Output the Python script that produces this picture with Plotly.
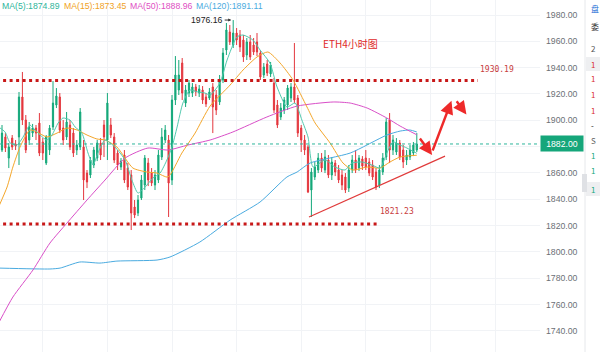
import plotly.graph_objects as go

# ---------------- data (ETH 4h candles) ----------------
OPEN = [1877.4, 1887.3, 1871.3, 1886.5, 1882.0, 1887.3, 1917.7, 1900.2, 1885.0, 1890.3,
        1894.1, 1897.9, 1883.5, 1867.5, 1877.4, 1894.9, 1911.6, 1917.7, 1894.1, 1887.3,
        1896.4, 1890.3, 1877.4, 1879.7, 1879.7, 1859.9, 1858.4, 1866.0, 1871.3, 1882.7,
        1896.4, 1885.0, 1896.4, 1887.3, 1875.1, 1864.5, 1873.6, 1863.7, 1858.4, 1834.1,
        1829.5, 1840.9, 1850.8, 1867.5, 1859.9, 1850.8, 1854.6, 1872.1, 1885.0, 1885.0,
        1854.6, 1915.4, 1923.0, 1943.5, 1913.1, 1920.7, 1920.7, 1925.3, 1920.7, 1923.0,
        1917.7, 1916.9, 1925.3, 1919.2, 1913.9, 1930.6, 1953.4, 1967.1, 1957.2, 1966.3,
        1964.8, 1961.0, 1949.6, 1959.5, 1957.2, 1959.5, 1951.1, 1934.4, 1942.8, 1935.2,
        1928.3, 1911.6, 1902.5, 1907.8, 1911.6, 1916.9, 1925.3, 1916.9, 1894.1, 1885.0,
        1879.7, 1847.0, 1856.9, 1862.2, 1871.3, 1862.2, 1869.8, 1858.4, 1867.5, 1862.2,
        1858.4, 1856.9, 1848.5, 1862.2, 1869.8, 1863.7, 1870.6, 1871.3, 1868.3, 1866.0,
        1860.7, 1850.8, 1860.7, 1872.1, 1900.2, 1877.4, 1875.9, 1882.7, 1877.4, 1869.8,
        1872.1, 1875.1, 1877.4]
HIGH = [1896.4, 1890.3, 1882.7, 1888.8, 1885.0, 1921.5, 1936.7, 1904.0, 1898.7, 1897.2,
        1896.4, 1905.5, 1886.5, 1888.8, 1896.4, 1929.8, 1924.5, 1920.7, 1900.2, 1906.3,
        1900.2, 1894.1, 1885.0, 1909.3, 1885.0, 1862.2, 1872.1, 1879.7, 1885.0, 1886.5,
        1900.2, 1920.7, 1901.7, 1890.3, 1877.4, 1871.3, 1877.4, 1867.5, 1862.2, 1839.4,
        1843.2, 1858.4, 1873.6, 1871.3, 1863.7, 1862.2, 1877.4, 1894.1, 1896.4, 1888.8,
        1919.2, 1948.8, 1945.8, 1947.3, 1926.8, 1930.6, 1928.3, 1927.6, 1926.8, 1926.0,
        1920.7, 1924.5, 1928.3, 1923.0, 1934.4, 1954.9, 1973.9, 1972.4, 1976.16, 1970.1,
        1968.6, 1964.8, 1962.5, 1964.8, 1962.5, 1966.3, 1953.4, 1943.5, 1945.8, 1944.3,
        1932.1, 1915.4, 1913.1, 1917.7, 1926.8, 1928.3, 1958.7, 1919.2, 1896.4, 1888.8,
        1881.2, 1863.7, 1868.3, 1875.1, 1875.1, 1877.4, 1873.6, 1872.1, 1869.8, 1866.0,
        1862.2, 1859.9, 1866.0, 1873.6, 1877.4, 1873.6, 1872.8, 1877.4, 1871.3, 1869.8,
        1863.7, 1866.0, 1875.1, 1901.7, 1905.5, 1888.8, 1886.5, 1885.0, 1881.2, 1877.4,
        1881.2, 1883.5, 1890.3]
LOW = [1875.9, 1875.9, 1863.7, 1877.4, 1877.4, 1866.0, 1896.4, 1875.1, 1881.2, 1887.3,
       1885.0, 1872.8, 1869.8, 1866.0, 1873.6, 1892.6, 1909.3, 1890.3, 1881.2, 1885.0,
       1877.4, 1872.1, 1873.6, 1877.4, 1839.4, 1848.5, 1856.1, 1863.7, 1869.0, 1869.8,
       1872.1, 1869.8, 1886.5, 1867.5, 1862.2, 1862.2, 1852.3, 1847.0, 1816.6, 1825.7,
       1827.2, 1839.4, 1847.0, 1850.0, 1850.0, 1847.0, 1852.3, 1869.8, 1882.7, 1826.5,
       1850.8, 1911.6, 1919.2, 1915.4, 1910.1, 1917.7, 1917.7, 1918.4, 1917.7, 1912.4,
       1910.1, 1915.4, 1890.3, 1904.0, 1911.6, 1928.3, 1949.6, 1957.2, 1954.9, 1957.2,
       1951.9, 1944.3, 1945.8, 1945.8, 1949.6, 1948.8, 1930.6, 1932.1, 1933.6, 1932.9,
       1905.5, 1894.1, 1900.2, 1904.8, 1907.8, 1913.9, 1913.1, 1887.3, 1875.9, 1873.6,
       1844.7, 1826.5, 1854.6, 1859.9, 1860.7, 1859.9, 1856.1, 1854.6, 1857.6, 1852.3,
       1847.0, 1844.7, 1845.5, 1859.9, 1859.9, 1861.4, 1862.2, 1862.2, 1857.6, 1854.6,
       1847.0, 1848.5, 1858.4, 1869.8, 1867.5, 1873.6, 1873.6, 1869.8, 1863.7, 1866.0,
       1869.8, 1872.8, 1875.9]
CLOSE = [1890.3, 1878.9, 1879.7, 1879.7, 1880.4, 1917.7, 1900.2, 1877.4, 1894.9, 1894.1,
         1890.3, 1875.1, 1875.1, 1887.3, 1894.1, 1913.1, 1918.4, 1892.6, 1885.0, 1898.7,
         1879.7, 1875.1, 1881.2, 1906.3, 1854.6, 1853.1, 1869.8, 1877.4, 1882.7, 1873.6,
         1887.3, 1913.1, 1888.8, 1869.8, 1866.0, 1869.0, 1854.6, 1849.3, 1829.5, 1828.0,
         1839.4, 1854.6, 1871.3, 1854.6, 1852.3, 1858.4, 1873.6, 1887.3, 1892.6, 1852.3,
         1915.4, 1934.4, 1934.4, 1920.7, 1923.0, 1928.3, 1925.3, 1921.5, 1923.8, 1915.4,
         1912.4, 1921.5, 1910.1, 1907.8, 1930.6, 1951.1, 1968.6, 1959.5, 1966.3, 1961.0,
         1955.7, 1948.1, 1959.5, 1948.1, 1951.9, 1951.9, 1932.9, 1940.5, 1935.9, 1942.0,
         1907.8, 1896.4, 1909.3, 1915.4, 1924.5, 1925.3, 1915.4, 1890.3, 1885.0, 1877.4,
         1845.5, 1860.7, 1864.5, 1871.3, 1863.7, 1872.1, 1858.4, 1868.3, 1860.7, 1854.6,
         1850.8, 1847.0, 1862.2, 1869.8, 1862.2, 1871.3, 1865.2, 1864.5, 1859.9, 1856.9,
         1849.3, 1862.2, 1871.3, 1898.7, 1877.4, 1885.0, 1882.7, 1872.1, 1868.3, 1873.6,
         1877.4, 1881.2, 1882.0]

# moving-average curves, sampled at candle indices
MA5_IDX = [-1, 0.9, 2.4, 4.4, 6.2, 8.2, 9.7, 11.2, 13.2, 14.7, 16.5, 17.9, 20, 21.5, 23.5, 25.3,
           26.8, 28.2, 30.3, 33.2, 36.2, 38.2, 40, 42.1, 44.4, 46.5, 48.5, 50, 51.5, 53.2, 55.3,
           57.6, 59.7, 61.2, 64.1, 66.2, 69.1, 70.9, 73.8, 75.9, 78.8, 80.9, 83.8, 86.2, 88.2,
           90, 91.5, 95, 97.9, 100.9, 102.9, 105.9, 108.8, 111.2, 113.2, 115, 117.1, 119.1, 122]
MA5_VAL = [1894.9, 1891.1, 1882.7, 1881.2, 1887.3, 1896.4, 1892.6, 1888.8, 1885.0, 1888.8,
           1897.9, 1901.7, 1900.2, 1894.9, 1890.3, 1875.1, 1866.0, 1875.1, 1885.0, 1879.7,
           1869.8, 1854.6, 1844.7, 1849.3, 1856.1, 1859.9, 1869.8, 1879.7, 1894.9, 1913.1,
           1923.0, 1921.5, 1920.7, 1919.2, 1928.3, 1945.8, 1963.3, 1964.8, 1961.0, 1953.4,
           1943.5, 1925.3, 1910.1, 1913.1, 1900.2, 1887.3, 1864.5, 1869.8, 1864.5, 1862.2,
           1867.5, 1868.3, 1866.0, 1863.7, 1875.1, 1883.5, 1881.2, 1878.9, 1874.89]
MA15_IDX = [-1, 1.5, 3.2, 5.3, 8.2, 10.3, 13.2, 16.2, 19.1, 22.1, 25, 27.9, 30.3, 33.8, 38.5,
            42.6, 45.6, 48.8, 52.9, 56.8, 61.2, 67.1, 70.9, 75, 78.2, 81.8, 85.6, 89.7, 92.1,
            96.5, 100.3, 103.2, 107.4, 111.2, 114.1, 117.1, 122]
MA15_VAL = [1834.1, 1849.3, 1864.5, 1879.7, 1892.6, 1891.1, 1887.3, 1890.3, 1894.1, 1892.6,
            1888.8, 1885.8, 1885.0, 1879.7, 1863.7, 1860.7, 1859.9, 1856.9, 1875.1, 1890.3,
            1910.8, 1926.8, 1938.2, 1948.1, 1951.9, 1943.5, 1930.6, 1910.1, 1897.9, 1882.7,
            1867.5, 1862.2, 1864.5, 1863.7, 1868.3, 1872.1, 1873.45]
MA50_IDX = [-1, 3.2, 9.1, 14.1, 19.1, 25, 30.3, 36.2, 42.9, 48.8, 54.7, 61.2, 67.9, 77.9, 86.8,
            97.4, 102.4, 107.4, 113.2, 117.1, 122]
MA50_VAL = [1745.9, 1765.7, 1786.2, 1806.7, 1821.9, 1839.4, 1854.6, 1871.3, 1878.9, 1877.4,
            1881.2, 1885.0, 1891.1, 1902.5, 1910.8, 1913.9, 1913.1, 1909.3, 1901.7, 1895.6,
            1888.96]
MA120_IDX = [-1, 14.1, 17.1, 22.9, 28.8, 33.8, 45.6, 49.4, 58.2, 67.1, 75.9, 83.8, 86.8, 90.6,
             102.4, 113.2, 117.1, 120, 122]
MA120_VAL = [1787.7, 1787.0, 1787.7, 1792.3, 1791.5, 1793.0, 1793.8, 1796.1, 1807.5, 1824.2,
             1837.9, 1856.9, 1860.7, 1867.5, 1875.1, 1888.8, 1891.8, 1892.6, 1891.11]

MA_NAMES = ["MA(5)", "MA(15)", "MA(50)", "MA(120)"]
MA_LAST = [1874.89, 1873.45, 1888.96, 1891.11]

LAST_PRICE = 1882.00
RESIST = 1930.19
SUPPORT = 1821.23
PEAK = 1976.16
PEAK_IDX = 68
RESIST_END = 140
SUPPORT_END = 110.6
TREND_IDX = [90.3, 130.3]
TREND_VAL = [1826.5, 1872.8]
ARROWS = [  # (tail idx, tail price, head idx, head price)
    (122.6, 1887.3, 126.5, 1873.6),
    (126.5, 1875.9, 132.2, 1914.8),
    (133.4, 1915.6, 136.6, 1904.4),
]
Y_TICKS = list(range(1740, 1981, 20))

# ---------------- style ----------------
GREEN = "#14a87a"
RED = "#e4373e"
MA_COLORS = ["#52c9ae", "#f4a62a", "#d94fc8", "#4aabe0"]
MA_TEXT = ["#2fb59b", "#f0a21e", "#e04fc3", "#4aabe0"]
GRID = "#f1f3f6"
W, H = 600, 352
PLOT_W = 540
PX_PER_CANDLE = 3.4
FIRST_PX = 2

n = len(CLOSE)
idx = list(range(n))

fig = go.Figure()
fig.add_trace(go.Candlestick(
    x=idx, open=OPEN, high=HIGH, low=LOW, close=CLOSE,
    increasing=dict(line=dict(color=GREEN, width=1), fillcolor=GREEN),
    decreasing=dict(line=dict(color=RED, width=1), fillcolor=RED),
    whiskerwidth=0, hoverinfo="skip"))

for (xi, yv, c) in [(MA120_IDX, MA120_VAL, MA_COLORS[3]), (MA50_IDX, MA50_VAL, MA_COLORS[2]),
                    (MA15_IDX, MA15_VAL, MA_COLORS[1]), (MA5_IDX, MA5_VAL, MA_COLORS[0])]:
    fig.add_trace(go.Scatter(x=xi, y=yv, mode="lines", hoverinfo="skip",
                             line=dict(color=c, width=1, shape="spline", smoothing=0.6)))

# trend line
fig.add_trace(go.Scatter(x=TREND_IDX, y=TREND_VAL, mode="lines", hoverinfo="skip",
                         line=dict(color="#e03a3a", width=1.2)))

x0 = -FIRST_PX / PX_PER_CANDLE
x1 = (PLOT_W - FIRST_PX) / PX_PER_CANDLE
y_top = 1980 + 15 / 1.316
y_bot = y_top - H / 1.316

shapes = [
    dict(type="line", xref="x", yref="y", x0=x0 - 1, x1=RESIST_END, y0=RESIST, y1=RESIST,
         line=dict(color="#c81818", width=3, dash="3px,3.5px")),
    dict(type="line", xref="x", yref="y", x0=x0 - 1, x1=SUPPORT_END, y0=SUPPORT, y1=SUPPORT,
         line=dict(color="#c81818", width=3, dash="3px,3.5px")),
    dict(type="line", xref="paper", yref="y", x0=0, x1=1, y0=LAST_PRICE, y1=LAST_PRICE,
         line=dict(color="#2db59b", width=1, dash="3px,3px")),
    # side panel divider
    dict(type="line", xref="paper", yref="paper", x0=585 / PLOT_W, x1=585 / PLOT_W, y0=0, y1=1,
         line=dict(color="#e6e8eb", width=1)),
    dict(type="rect", xref="paper", yref="paper", x0=586 / PLOT_W, x1=600 / PLOT_W,
         y0=1 - 71 / H, y1=1 - 57 / H, fillcolor="#eeeff1", line=dict(width=0)),
    dict(type="rect", xref="paper", yref="paper", x0=586 / PLOT_W, x1=600 / PLOT_W,
         y0=1 - 196 / H, y1=1 - 182 / H, fillcolor="#eeeff1", line=dict(width=0)),
    dict(type="rect", xref="paper", yref="paper", x0=582 / PLOT_W, x1=587 / PLOT_W,
         y0=1 - 192 / H, y1=1 - 174 / H, fillcolor="#dfe1e5", line=dict(width=0)),
]

ann = []
# MA legend
legend_px = [0, 62, 128, 194]
for name, val, col, px in zip(MA_NAMES, MA_LAST, MA_TEXT, legend_px):
    ann.append(dict(xref="paper", yref="paper", x=px / PLOT_W, y=1 - 6 / H, xanchor="left",
                    yanchor="middle", showarrow=False, text=f"{name}:{val:.2f}",
                    font=dict(family="Liberation Sans, Arial", size=8.7, color=col)))
# title
ann.append(dict(xref="paper", yref="paper", x=350 / PLOT_W, y=1 - 34 / H, showarrow=False,
                text="ETH4小时图", font=dict(family="Noto Sans CJK SC", size=10, color="#e02a2a")))
# peak marker
ann.append(dict(xref="x", yref="y", x=PEAK_IDX - 0.3, y=PEAK, text=f"{PEAK:.2f}", showarrow=True,
                ax=-25, ay=0, arrowhead=2, arrowsize=0.6, arrowwidth=1, arrowcolor="#333",
                standoff=1, font=dict(family="Liberation Sans, Arial", size=8.7, color="#222")))
# level labels
ann.append(dict(xref="x", yref="y", x=RESIST_END, y=RESIST, yshift=11, xanchor="left",
                showarrow=False, text=f"{RESIST:.2f}",
                font=dict(family="DejaVu Sans Mono", size=8, color="#c83c3c")))
ann.append(dict(xref="x", yref="y", x=SUPPORT_END, y=SUPPORT, yshift=12, xanchor="left",
                showarrow=False, text=f"{SUPPORT:.2f}",
                font=dict(family="DejaVu Sans Mono", size=8, color="#c83c3c")))
# red arrows
for tx, ty, hx, hy in ARROWS:
    ann.append(dict(xref="x", yref="y", axref="x", ayref="y", x=hx, y=hy, ax=tx, ay=ty,
                    text="", showarrow=True, arrowhead=2, arrowsize=1.1, arrowwidth=2.4,
                    arrowcolor="#ee2a2a"))
# last price tag
ann.append(dict(xref="paper", yref="y", x=1, y=LAST_PRICE, xanchor="left", showarrow=False,
                text=f"{LAST_PRICE:.2f}", bgcolor="#15a67a", width=40, height=13, borderpad=1,
                font=dict(family="Liberation Sans, Arial", size=8.7, color="white")))
# side panel fragments
side = [(9, "盘", "#1f6fd6"), (27, "委", "#333"), (48, "2", "#555"), (64, "1", "#d93030"),
        (79, "1", "#d93030"), (94, "1", "#d93030"), (110, "1", "#d93030"), (126, "-", "#111"),
        (140, "S", "#666"), (155, "1", "#14a87a"), (170, "1", "#14a87a"), (189, "1", "#14a87a")]
for py, t, c in side:
    ann.append(dict(xref="paper", yref="paper", x=589 / PLOT_W, y=1 - py / H, xanchor="left",
                    yanchor="middle", showarrow=False, text=t,
                    font=dict(family="Noto Sans CJK SC", size=8, color=c)))

fig.update_layout(
    width=W, height=H, margin=dict(l=0, r=W - PLOT_W, t=0, b=0),
    paper_bgcolor="white", plot_bgcolor="white", showlegend=False, boxgap=0.5,
    shapes=shapes, annotations=ann,
    xaxis=dict(range=[x0, x1], rangeslider=dict(visible=False), showgrid=True, gridcolor=GRID,
               tick0=12, dtick=19, showticklabels=False, zeroline=False, showline=False,
               ticks=""),
    yaxis=dict(range=[y_bot, y_top], side="right", tickvals=Y_TICKS,
               ticktext=["" if v == 1880 else f"{v:.2f}" for v in Y_TICKS], showgrid=True,
               gridcolor=GRID, zeroline=False, showline=False, ticks="", ticklabelstandoff=5,
               tickfont=dict(family="Liberation Sans, Arial", size=8.7, color="#6b6f76")),
)

fig.write_html("out.html")
